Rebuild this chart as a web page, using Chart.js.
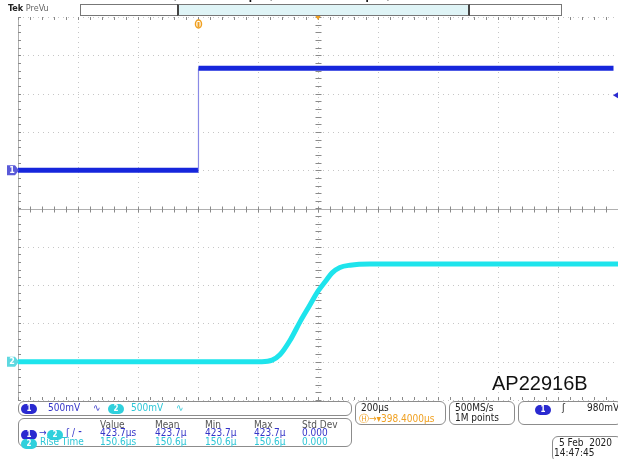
<!DOCTYPE html>
<html lang="en">
<head>
<meta charset="UTF-8">
<title>AP22916B turn-on</title>
<script src="https://cdn.jsdelivr.net/npm/chart.js"></script>
<style>
    body { margin: 0; background: #fff; }
    #wrap { position: relative; width: 618px; height: 459px; overflow: hidden; background: #fff;
            font-family: "DejaVu Sans Condensed", "DejaVu Sans", sans-serif; font-size: 10px; }
    canvas { position: absolute; left: 0; top: 0; }
    .abs { position: absolute; white-space: nowrap; }
    .box { position: absolute; border: 1px solid #8c8c8c; border-radius: 6px; background: #fff; box-sizing: border-box; }
    .pill { display: inline-block; width: 16px; height: 10px; line-height: 10px; border-radius: 5px;
            color: #fff; text-align: center; font-weight: bold; font-size: 8px; vertical-align: middle; }
    .b { color: #3434c8; }
    .c { color: #2cc6d6; }
    .o { color: #f0a020; }
    .k { color: #222; }
    .g { color: #555; }
</style>
</head>
<body>
<div id="wrap">
    <canvas id="scope" width="618" height="459"></canvas>

    <!-- cut-off caption above the screen shot -->
    <div class="abs" style="left:98px; top:-19px; font: 19px 'Liberation Sans', Arial, sans-serif; color:#111;">VIN = 5V, CIN = 1µF, COUT = 1µF, RL = 10Ω</div>

    <!-- header -->
    <div class="abs" style="left:8px; top:3px; font-size:9px;"><b style="color:#222">Tek</b> <span style="color:#666">PreVu</span></div>
    <div class="abs" style="left:80px; top:4px; width:480px; height:10px; border:1px solid #777; background:#fff;"></div>
    <div class="abs" style="left:177px; top:4px; width:289px; height:10px; border-left:2px solid #444; border-right:2px solid #444; border-top:1px solid #777; border-bottom:1px solid #777; background:#dff4f6;"></div>

    <div class="abs" style="left:492px; top:372px; font: 20px 'Liberation Sans', Arial, sans-serif; color:#111;">AP22916B</div>

    <!-- channel readout -->
    <div class="box" style="left:18px; top:401px; width:334px; height:15px;">
        <span class="abs" style="left:2px; top:1px;"><span class="pill" style="background:#2a2ad0">1</span></span>
        <span class="abs b" style="left:29px; top:0px;">500mV</span>
        <span class="abs b" style="left:74px; top:0px;">∿</span>
        <span class="abs" style="left:89px; top:1px;"><span class="pill" style="background:#30d0dc">2</span></span>
        <span class="abs c" style="left:112px; top:0px;">500mV</span>
        <span class="abs c" style="left:157px; top:0px;">∿</span>
    </div>

    <!-- measurements -->
    <div class="box" style="left:18px; top:418px; width:334px; height:29px;">
        <span class="abs g" style="left:81px; top:0px;">Value</span>
        <span class="abs g" style="left:136px; top:0px;">Mean</span>
        <span class="abs g" style="left:186px; top:0px;">Min</span>
        <span class="abs g" style="left:235px; top:0px;">Max</span>
        <span class="abs g" style="left:283px; top:0px;">Std Dev</span>

        <span class="abs" style="left:2px; top:10px;"><span class="pill" style="background:#2a2ad0">1</span></span>
        <span class="abs b" style="left:20px; top:8px;">→</span>
        <span class="abs" style="left:28px; top:10px;"><span class="pill" style="background:#30d0dc">2</span></span>
        <span class="abs b" style="left:47px; top:8px;">ʃ / ⁃</span>
        <span class="abs b" style="left:81px; top:8px;">423.7µs</span>
        <span class="abs b" style="left:136px; top:8px;">423.7µ</span>
        <span class="abs b" style="left:186px; top:8px;">423.7µ</span>
        <span class="abs b" style="left:235px; top:8px;">423.7µ</span>
        <span class="abs b" style="left:283px; top:8px;">0.000</span>

        <span class="abs" style="left:2px; top:19px;"><span class="pill" style="background:#30d0dc">2</span></span>
        <span class="abs c" style="left:21px; top:17px;">Rise Time</span>
        <span class="abs c" style="left:81px; top:17px;">150.6µs</span>
        <span class="abs c" style="left:136px; top:17px;">150.6µ</span>
        <span class="abs c" style="left:186px; top:17px;">150.6µ</span>
        <span class="abs c" style="left:235px; top:17px;">150.6µ</span>
        <span class="abs c" style="left:283px; top:17px;">0.000</span>
    </div>

    <!-- horizontal -->
    <div class="box" style="left:355px; top:401px; width:91px; height:24px;">
        <span class="abs k" style="left:5px; top:0px;">200µs</span>
        <span class="abs o" style="left:3px; top:10px;">Ⓗ→▾398.4000µs</span>
    </div>
    <div class="box" style="left:449px; top:401px; width:66px; height:24px;">
        <span class="abs k" style="left:5px; top:0px;">500MS/s</span>
        <span class="abs k" style="left:5px; top:10px;">1M points</span>
    </div>
    <!-- trigger -->
    <div class="box" style="left:518px; top:401px; width:104px; height:24px;">
        <span class="abs" style="left:16px; top:2px;"><span class="pill" style="background:#2a2ad0">1</span></span>
        <span class="abs k" style="left:43px; top:0px;">ʃ</span>
        <span class="abs k" style="left:68px; top:0px;">980mV</span>
    </div>
    <!-- date -->
    <div class="box" style="left:552px; top:436px; width:70px; height:26px;">
        <span class="abs k" style="left:6px; top:0px;">5 Feb&nbsp; 2020</span>
        <span class="abs k" style="left:1px; top:10px;">14:47:45</span>
    </div>
</div>

<script>
    // scope settings
    const voltsPerDiv = 0.5;
    const ch1Position = 1;     // divisions above centre
    const ch2Position = -4;
    const triggerLevel = 0.98; // V on ch1
    const triggerTime = -398.4; // us from screen centre

    // CH1: enable / input step (time in us, volts)
    const ch1Time = [-1000, -398.4, -398.4, 985];
    const ch1Volts = [0, 0, 1.33, 1.33];

    // CH2: output ramp
    const ch2Time = [-1000, -187, -153, -127, -93, -60, -27, 0, 27, 47, 73, 107, 173, 1000];
    const ch2Volts = [0, 0, 0.02, 0.09, 0.28, 0.52, 0.74, 0.92, 1.06, 1.16, 1.23, 1.26, 1.275, 1.275];

    function toDivs(times, volts, pos) {
        return times.map((t, i) => ({ x: t, y: pos + volts[i] / voltsPerDiv }));
    }

    // dotted graticule with minor ticks on the centre axes
    const graticule = {
        id: 'graticule',
        beforeDatasetsDraw(chart) {
            const { ctx, chartArea: ca } = chart;
            const xs = chart.scales.x, ys = chart.scales.y;
            const px = v => Math.round(xs.getPixelForValue(v)) + 0.5;
            const py = v => Math.round(ys.getPixelForValue(v)) + 0.5;
            ctx.save();
            ctx.lineWidth = 1;
            ctx.strokeStyle = '#c6c6c6';
            ctx.setLineDash([1, 4]);
            for (let t = -1000; t <= 1000; t += 200) {
                ctx.beginPath(); ctx.moveTo(px(t), ca.top); ctx.lineTo(px(t), ca.bottom); ctx.stroke();
            }
            for (let d = -5; d <= 5; d++) {
                ctx.beginPath(); ctx.moveTo(ca.left, py(d)); ctx.lineTo(ca.right, py(d)); ctx.stroke();
            }
            ctx.setLineDash([]);
            ctx.strokeStyle = '#b0b0b0';
            // centre lines
            ctx.beginPath(); ctx.moveTo(ca.left, py(0)); ctx.lineTo(ca.right, py(0)); ctx.stroke();
            ctx.beginPath(); ctx.moveTo(ca.left + 0.5, ca.top); ctx.lineTo(ca.left + 0.5, ca.bottom); ctx.stroke();
            ctx.strokeStyle = '#8a8a8a';
            for (let t = -1000; t <= 1000; t += 40) {
                const x = px(t);
                ctx.beginPath(); ctx.moveTo(x, py(0) - 3); ctx.lineTo(x, py(0) + 3); ctx.stroke();
                ctx.beginPath(); ctx.moveTo(x, ca.top); ctx.lineTo(x, ca.top + 3); ctx.stroke();
                ctx.beginPath(); ctx.moveTo(x, ca.bottom - 3); ctx.lineTo(x, ca.bottom); ctx.stroke();
            }
            for (let d = -5; d <= 5.001; d += 0.2) {
                const y = py(d);
                ctx.beginPath(); ctx.moveTo(px(0) - 3, y); ctx.lineTo(px(0) + 3, y); ctx.stroke();
                ctx.beginPath(); ctx.moveTo(ca.left, y); ctx.lineTo(ca.left + 3, y); ctx.stroke();
            }
            ctx.restore();
        },
        afterDatasetsDraw(chart) {
            const { ctx, chartArea: ca } = chart;
            const xs = chart.scales.x, ys = chart.scales.y;
            ctx.save();
            // channel ground markers
            const tag = (y, fill, txt) => {
                ctx.fillStyle = fill;
                ctx.beginPath();
                ctx.moveTo(7, y - 5); ctx.lineTo(15, y - 5); ctx.lineTo(19, y); ctx.lineTo(15, y + 5); ctx.lineTo(7, y + 5);
                ctx.closePath(); ctx.fill();
                ctx.fillStyle = '#fff';
                ctx.font = 'bold 8px "DejaVu Sans"';
                ctx.textAlign = 'center'; ctx.textBaseline = 'middle';
                ctx.fillText(txt, 12, y + 0.5);
            };
            tag(ys.getPixelForValue(ch1Position), '#5a5ad8', '1');
            tag(ys.getPixelForValue(ch2Position), '#5ed8e0', '2');
            // trigger level marker on the right
            const ty = ys.getPixelForValue(ch1Position + triggerLevel / voltsPerDiv);
            ctx.fillStyle = '#2a2ad0';
            ctx.beginPath(); ctx.moveTo(613, ty); ctx.lineTo(618, ty - 3); ctx.lineTo(618, ty + 3); ctx.closePath(); ctx.fill();
            // trigger position and expansion point
            const tx = xs.getPixelForValue(triggerTime);
            ctx.strokeStyle = '#f0a020'; ctx.lineWidth = 1.5;
            ctx.beginPath(); ctx.ellipse(tx, ca.top + 7, 3, 4, 0, 0, Math.PI * 2); ctx.stroke();
            ctx.fillStyle = '#f0a020';
            ctx.fillRect(tx - 1, ca.top + 5, 2, 5);
            const cx = xs.getPixelForValue(0);
            ctx.beginPath(); ctx.moveTo(cx - 4, ca.top - 3); ctx.lineTo(cx + 4, ca.top - 3); ctx.lineTo(cx, ca.top + 3); ctx.closePath(); ctx.fill();
            ctx.fillRect(262, 7, 4, 5);
            ctx.restore();
        }
    };

    new Chart(document.getElementById('scope').getContext('2d'), {
        type: 'line',
        data: {
            datasets: [
                {
                    label: 'CH2',
                    data: toDivs(ch2Time, ch2Volts, ch2Position),
                    borderColor: '#1ee4ec',
                    borderWidth: 5,
                    pointRadius: 0,
                    cubicInterpolationMode: 'monotone',
                    fill: false
                },
                {
                    label: 'CH1',
                    data: toDivs(ch1Time, ch1Volts, ch1Position),
                    borderColor: '#1626dc',
                    borderWidth: 5,
                    pointRadius: 0,
                    tension: 0,
                    fill: false,
                    segment: {
                        borderWidth: c => c.p0.parsed.x === c.p1.parsed.x ? 1.2 : 5,
                        borderColor: c => c.p0.parsed.x === c.p1.parsed.x ? '#8a8ae6' : '#1626dc'
                    }
                }
            ]
        },
        options: {
            responsive: false,
            animation: false,
            layout: { padding: { left: 18, right: 0, top: 17, bottom: 59 } },
            plugins: { legend: { display: false }, tooltip: { enabled: false } },
            scales: {
                x: { type: 'linear', min: -1000, max: 1000, display: false },
                y: { min: -5, max: 5, display: false }
            }
        },
        plugins: [graticule]
    });
</script>
</body>
</html>
